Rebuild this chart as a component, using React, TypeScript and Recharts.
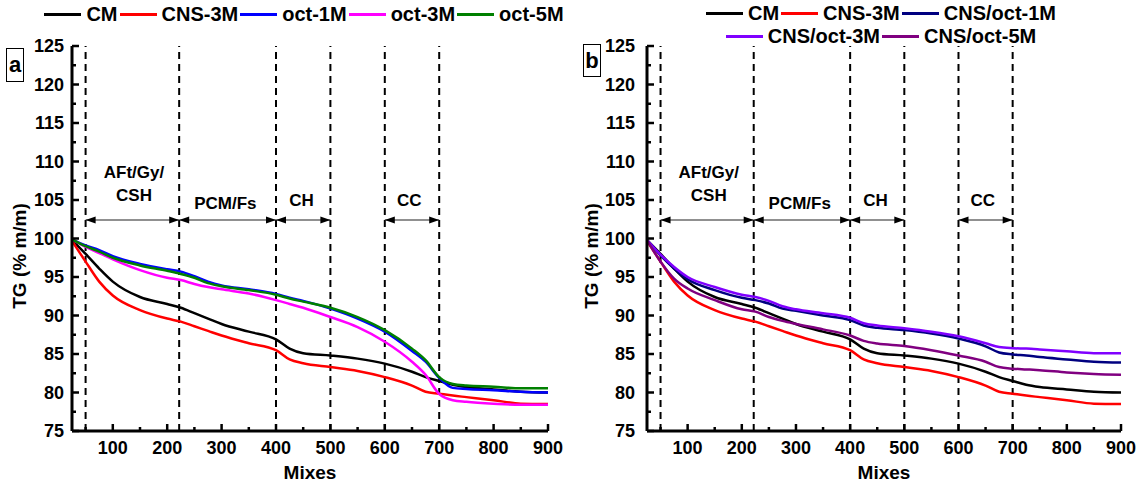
import React from 'react';
import { LineChart, Line, XAxis, YAxis, ReferenceLine, ReferenceDot } from 'recharts';

// temperature steps (x) shared by every curve
const temps = [25, 50, 75, 100, 150, 200, 225, 250, 275, 300, 350, 400, 425, 450, 500, 550, 600, 650, 675, 700, 725, 750, 800, 850, 900];

const cm = [99.8, 98.0, 96.1, 94.4, 92.4, 91.5, 91.0, 90.3, 89.6, 88.9, 87.9, 86.9, 85.7, 85.1, 84.8, 84.4, 83.75, 82.7, 82.0, 81.5, 81.0, 80.7, 80.4, 80.1, 80.0];
const cns3 = [99.7, 97.0, 94.4, 92.6, 90.7, 89.6, 89.2, 88.6, 88.0, 87.4, 86.4, 85.5, 84.3, 83.8, 83.3, 82.8, 82.0, 80.9, 80.1, 79.85, 79.6, 79.4, 79.0, 78.55, 78.5];
const oct1 = [99.9, 99.1, 98.5, 97.7, 96.7, 96.0, 95.7, 95.1, 94.4, 93.9, 93.4, 92.8, 92.3, 91.9, 90.9, 89.6, 87.9, 85.4, 84.0, 81.9, 80.6, 80.45, 80.3, 80.1, 80.0];
const oct3 = [99.9, 98.9, 98.1, 97.3, 95.9, 94.9, 94.6, 94.1, 93.7, 93.4, 92.85, 92.0, 91.5, 91.0, 89.8, 88.5, 86.6, 84.0, 82.3, 79.8, 79.0, 78.8, 78.55, 78.4, 78.4];
const oct5 = [99.9, 99.0, 98.3, 97.5, 96.5, 95.8, 95.4, 94.9, 94.2, 93.8, 93.3, 92.7, 92.2, 91.8, 91.0, 89.8, 88.1, 85.7, 84.2, 82.0, 81.1, 80.9, 80.75, 80.55, 80.55];
const cnsOct1 = [99.8, 97.8, 96.1, 94.7, 93.3, 92.3, 92.0, 91.55, 90.9, 90.6, 90.0, 89.4, 88.7, 88.4, 88.1, 87.65, 87.0, 86.0, 85.2, 84.95, 84.8, 84.6, 84.3, 84.0, 83.9];
const cnsOct3 = [99.8, 97.9, 96.3, 95.0, 93.7, 92.7, 92.4, 91.9, 91.2, 90.8, 90.3, 89.7, 89.0, 88.7, 88.35, 87.9, 87.3, 86.4, 85.9, 85.75, 85.7, 85.6, 85.35, 85.1, 85.1];
const cnsOct5 = [99.8, 97.0, 94.8, 93.5, 92.0, 90.8, 90.5, 89.8, 89.3, 88.9, 88.2, 87.4, 86.7, 86.35, 86.05, 85.5, 84.8, 84.0, 83.3, 83.1, 83.0, 82.9, 82.6, 82.4, 82.3];

const xTicks = [50, 100, 150, 200, 250, 300, 350, 400, 450, 500, 550, 600, 650, 700, 750, 800, 850, 900];
const yTicks = [75, 77.5, 80, 82.5, 85, 87.5, 90, 92.5, 95, 97.5, 100, 102.5, 105, 107.5, 110, 112.5, 115, 117.5, 120, 122.5, 125];

const phaseBounds = [50, 222, 400, 500, 600, 700];
const phaseArrows = [[50, 222], [222, 400], [400, 500], [600, 700]];
const phaseNames = [
  { x: 139, y: 108.6, text: 'AFt/Gy/' },
  { x: 139, y: 105.7, text: 'CSH' },
  { x: 307, y: 104.6, text: 'PCM/Fs' },
  { x: 447, y: 105.0, text: 'CH' },
  { x: 645, y: 105.0, text: 'CC' },
];
const arrowLevel = 102.4;

const seriesA = [
  { key: 'cm', name: 'CM', color: '#000000', values: cm },
  { key: 'cns3', name: 'CNS-3M', color: '#ff0000', values: cns3 },
  { key: 'oct1', name: 'oct-1M', color: '#0000ff', values: oct1 },
  { key: 'oct3', name: 'oct-3M', color: '#ff00ff', values: oct3 },
  { key: 'oct5', name: 'oct-5M', color: '#008000', values: oct5 },
];
const seriesB = [
  { key: 'cm', name: 'CM', color: '#000000', values: cm },
  { key: 'cns3', name: 'CNS-3M', color: '#ff0000', values: cns3 },
  { key: 'cnsOct1', name: 'CNS/oct-1M', color: '#000080', values: cnsOct1 },
  { key: 'cnsOct3', name: 'CNS/oct-3M', color: '#8000ff', values: cnsOct3 },
  { key: 'cnsOct5', name: 'CNS/oct-5M', color: '#800080', values: cnsOct5 },
];

const FONT = "'Liberation Sans', Arial, sans-serif";
const AXIS = { stroke: '#000', strokeWidth: 3 };

const buildRows = (series: any[]) =>
  temps.map((t, i) => {
    const row: any = { t };
    series.forEach((s) => (row[s.key] = s.values[i]));
    return row;
  });

const bottomTick = (p: any) => {
  const major = p.payload.value % 100 === 0;
  return (
    <g>
      <line x1={p.x} x2={p.x} y1={p.y} y2={p.y - (major ? 7 : 4)} stroke="#000" strokeWidth={2.5} />
      {major && (
        <text x={p.x} y={p.y + 23} textAnchor="middle" fontSize={18} fontWeight="bold" fontFamily={FONT} fill="#000">
          {p.payload.value}
        </text>
      )}
    </g>
  );
};
const topTick = (p: any) => {
  const major = p.payload.value % 100 === 0;
  return <line x1={p.x} x2={p.x} y1={p.y} y2={p.y + (major ? 7 : 4)} stroke="#000" strokeWidth={2.5} />;
};
const makeLeftTick = (gap: number) => (p: any) => {
  const major = p.payload.value % 5 === 0;
  return (
    <g>
      <line x1={p.x} x2={p.x + (major ? 7 : 4)} y1={p.y} y2={p.y} stroke="#000" strokeWidth={2.5} />
      {major && (
        <text x={p.x - gap} y={p.y + 6} textAnchor="end" fontSize={18} fontWeight="bold" fontFamily={FONT} fill="#000">
          {p.payload.value}
        </text>
      )}
    </g>
  );
};
const rightTick = (p: any) => {
  const major = p.payload.value % 5 === 0;
  return <line x1={p.x} x2={p.x - (major ? 7 : 4)} y1={p.y} y2={p.y} stroke="#000" strokeWidth={2.5} />;
};

const arrowShape = (p: any) => {
  const { x1, x2, y1 } = p;
  return (
    <g>
      <line x1={x1} x2={x2} y1={y1} y2={y1} stroke="#222" strokeWidth={1.2} />
      <polygon points={`${x1},${y1} ${x1 + 10},${y1 - 3.5} ${x1 + 10},${y1 + 3.5}`} fill="#000" />
      <polygon points={`${x2},${y1} ${x2 - 10},${y1 - 3.5} ${x2 - 10},${y1 + 3.5}`} fill="#000" />
    </g>
  );
};

interface PanelProps {
  series: any[];
  plotLeft: number;
  plotRight: number;
  labelGap: number;
  titleX: number;
}

const Panel: React.FC<PanelProps> = ({ series, plotLeft, plotRight, labelGap, titleX }) => {
  const data = buildRows(series);
  const midX = (plotLeft + (570 - plotRight)) / 2;
  return (
    <LineChart width={570} height={486} data={data} margin={{ top: 46, right: plotRight, left: 0, bottom: 0 }}>
      <XAxis
        dataKey="t"
        type="number"
        domain={[25, 900]}
        ticks={xTicks}
        interval={0}
        height={55}
        tickSize={0}
        tickMargin={0}
        axisLine={AXIS}
        tick={bottomTick}
        label={() => (
          <text x={midX} y={479} textAnchor="middle" fontSize={19} fontWeight="bold" fontFamily={FONT} fill="#000">
            Mixes
          </text>
        )}
      />
      <XAxis
        xAxisId="top"
        orientation="top"
        dataKey="t"
        type="number"
        domain={[25, 900]}
        ticks={xTicks}
        interval={0}
        height={0}
        tickSize={0}
        tickMargin={0}
        axisLine={AXIS}
        tick={topTick}
      />
      <YAxis
        type="number"
        domain={[75, 125]}
        ticks={yTicks}
        interval={0}
        width={plotLeft}
        tickSize={0}
        tickMargin={0}
        axisLine={AXIS}
        tick={makeLeftTick(labelGap)}
        label={() => (
          <text
            x={titleX}
            y={256}
            transform={`rotate(-90 ${titleX} 256)`}
            textAnchor="middle"
            dominantBaseline="central"
            fontSize={19}
            fontWeight="bold"
            fontFamily={FONT}
            fill="#000"
          >
            TG (% m/m)
          </text>
        )}
      />
      <YAxis
        yAxisId="right"
        orientation="right"
        type="number"
        domain={[75, 125]}
        ticks={yTicks}
        interval={0}
        width={0}
        tickSize={0}
        tickMargin={0}
        axisLine={AXIS}
        tick={rightTick}
      />
      {phaseBounds.map((b) => (
        <ReferenceLine key={'b' + b} x={b} stroke="#000" strokeWidth={2} strokeDasharray="7 5" />
      ))}
      {phaseArrows.map(([a, b]) => (
        <ReferenceLine
          key={'a' + a}
          segment={[{ x: a, y: arrowLevel }, { x: b, y: arrowLevel }]}
          shape={arrowShape}
        />
      ))}
      {phaseNames.map((n) => (
        <ReferenceDot
          key={n.text}
          x={n.x}
          y={n.y}
          r={0}
          fill="none"
          stroke="none"
          label={{ value: n.text, position: 'center', fontSize: 17, fontWeight: 'bold', fill: '#000', fontFamily: FONT }}
        />
      ))}
      {series.map((s) => (
        <Line
          key={s.key}
          dataKey={s.key}
          stroke={s.color}
          strokeWidth={2.5}
          dot={false}
          type="monotone"
          isAnimationActive={false}
        />
      ))}
    </LineChart>
  );
};

const LegendItem: React.FC<{ color: string; label: string }> = ({ color, label }) => (
  <span style={{ display: 'inline-flex', alignItems: 'center', marginRight: 2 }}>
    <span style={{ display: 'inline-block', width: 37, height: 3, background: color, marginRight: 5 }} />
    <span>{label}</span>
  </span>
);

const legendText: React.CSSProperties = {
  position: 'absolute',
  fontFamily: FONT,
  fontWeight: 'bold',
  fontSize: 20,
  lineHeight: '22px',
  whiteSpace: 'nowrap',
  display: 'flex',
  justifyContent: 'center',
};

const PanelTag: React.FC<{ text: string; left: number; top: number; h: number }> = ({ text, left, top, h }) => (
  <div
    style={{
      position: 'absolute',
      left,
      top,
      width: 16,
      height: h,
      border: '1px solid #000',
      fontFamily: FONT,
      fontWeight: 'bold',
      fontSize: 22,
      lineHeight: `${h}px`,
      textAlign: 'center',
    }}
  >
    {text}
  </div>
);

export default function App() {
  return (
    <div style={{ position: 'absolute', left: 0, top: 0, width: 1140, height: 486, background: '#fff', overflow: 'hidden' }}>
      <div style={{ position: 'absolute', left: 0, top: 0 }}>
        <Panel series={seriesA} plotLeft={72} plotRight={22} labelGap={8} titleX={19} />
      </div>
      <div style={{ position: 'absolute', left: 570, top: 0 }}>
        <Panel series={seriesB} plotLeft={77} plotRight={19} labelGap={12} titleX={21} />
      </div>
      <div style={{ ...legendText, left: 0, width: 610, top: 3 }}>
        {seriesA.map((s) => (
          <LegendItem key={s.key} color={s.color} label={s.name} />
        ))}
      </div>
      <div style={{ ...legendText, left: 582, width: 600, top: 2 }}>
        {seriesB.slice(0, 3).map((s) => (
          <LegendItem key={s.key} color={s.color} label={s.name} />
        ))}
      </div>
      <div style={{ ...legendText, left: 582, width: 600, top: 25 }}>
        {seriesB.slice(3).map((s) => (
          <LegendItem key={s.key} color={s.color} label={s.name} />
        ))}
      </div>
      <PanelTag text="a" left={6} top={48} h={32} />
      <PanelTag text="b" left={583} top={44} h={31} />
    </div>
  );
}
